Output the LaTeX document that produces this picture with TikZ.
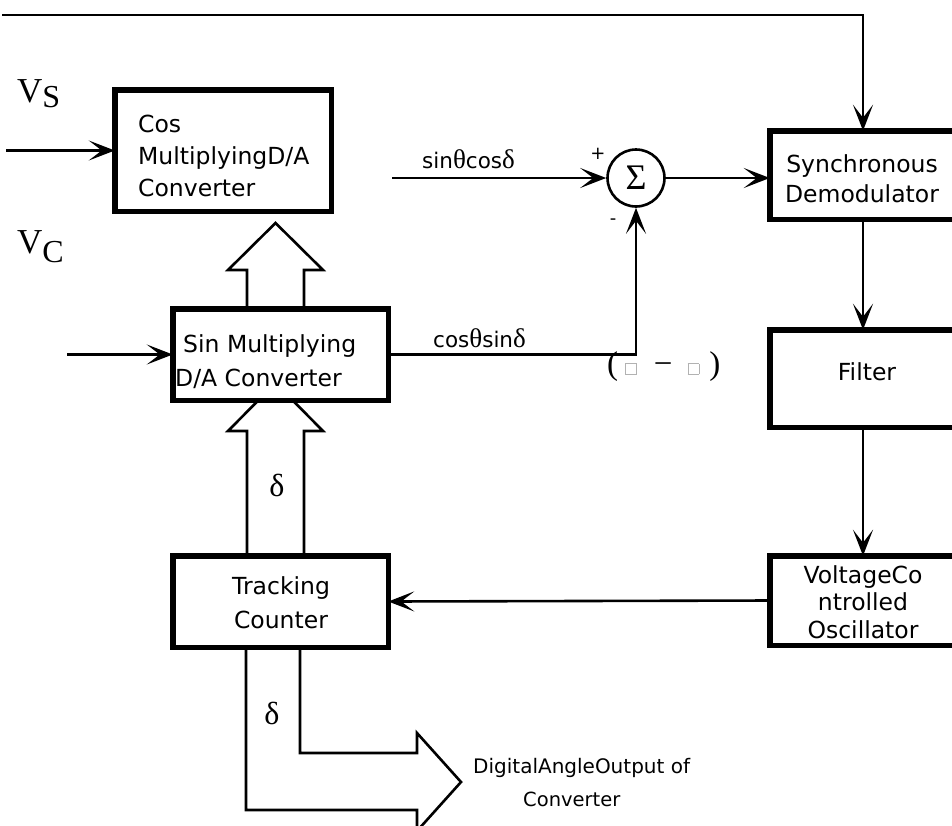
\documentclass[tikz,border=0pt]{standalone}
\usepackage{fontspec}
\setmainfont{DejaVu Sans}
\newfontfamily\grk{Liberation Serif}
\usetikzlibrary{arrows.meta}
\newcommand\missbox{{\color{gray!60}\fboxsep=0pt\fboxrule=0.9pt\fbox{\rule{0pt}{10pt}\rule{10pt}{0pt}}}}
\newcommand\gk[1]{{\grk\fontsize{27}{27}\selectfont #1}}
\begin{document}
\begin{tikzpicture}[x=1pt,y=-1pt,
  blk/.style={draw,line width=5.5pt,fill=white,inner sep=0pt,outer sep=0pt},
  txt/.style={font=\fontsize{23.5}{28}\selectfont,inner sep=0pt,anchor=base},
  txtl/.style={font=\fontsize{23.5}{28}\selectfont,inner sep=0pt,anchor=base west},
  lab/.style={font=\fontsize{21.5}{25}\selectfont,inner sep=0pt,anchor=base west},
  conn/.style={line width=2.6pt,arrows={-Stealth[length=26pt,width=20pt,inset=13pt]}},
  hollow/.style={draw,line width=2.6pt,line join=miter,fill=white}]
\useasboundingbox (0,0) rectangle (952,825);
\fill[white] (0,0) rectangle (952,825);
\clip (0,0) rectangle (952,825);

% hollow bus arrows (drawn first, boxes cover their ends)
\coordinate (hA1) at (247,553);
\coordinate (hA2) at (304,553);
\draw[hollow] (hA1) -- (247,431) -- (228,431) -- (275.5,383) -- (323,431) -- (304,431) -- (hA2);
\coordinate (hB1) at (247,306);
\coordinate (hB2) at (304,306);
\draw[hollow] (hB1) -- (247,270) -- (228,270) -- (275.5,223) -- (323,270) -- (304,270) -- (hB2);
\coordinate (hC1) at (246,650);
\coordinate (hC2) at (300,650);
\draw[hollow] (hC1) -- (246,810) -- (417,810) -- (417,831) -- (461,782) -- (417,733) -- (417,753) -- (300,753) -- (hC2);

% blocks
\node[blk,minimum width=216.5pt,minimum height=121.5pt] (cos) at (223,150.5) {};
\node[blk,minimum width=215.5pt,minimum height=91.5pt] (sin) at (280.5,354.5) {};
\node[blk,minimum width=215.5pt,minimum height=91.5pt] (trk) at (280.5,601.5) {};
\node[blk,minimum width=186.5pt,minimum height=88.5pt] (sync) at (863,175) {};
\node[blk,minimum width=186.5pt,minimum height=97.5pt] (filt) at (863,378.5) {};
\node[blk,minimum width=186.5pt,minimum height=89.5pt] (vco) at (863,600.5) {};
\node[draw,circle,line width=2.6pt,minimum size=57pt,inner sep=0pt,fill=white,
      font=\grk\fontsize{36}{36}\selectfont] (sum) at (636,178) {Σ};

% block texts
\node[txtl] (tcos1) at (138,132) {Cos};
\node[txtl] (tcos2) at (138,164) {MultiplyingD/A};
\node[txtl] (tcos3) at (138,196) {Converter};
\node[txtl] (tsin1) at (183,352) {Sin Multiplying};
\node[txtl] (tsin2) at (175,386) {D/A Converter};
\node[txt] (ttrk1) at (281,594) {Tracking};
\node[txt] (ttrk2) at (281,628) {Counter};
\node[txt] (tsync1) at (862,172) {Synchronous};
\node[txt] (tsync2) at (862,202) {Demodulator};
\node[txt] (tfilt) at (867,380) {Filter};
\node[txt] (tvco1) at (863,583) {VoltageCo};
\node[txt] (tvco2) at (863,610) {ntrolled};
\node[txt] (tvco3) at (863,638) {Oscillator};

% inputs
\node[anchor=base west,inner sep=0pt,font=\grk\fontsize{35}{36}\selectfont] (vs) at (17,102)
  {V\raisebox{-5pt}{\fontsize{32}{32}\selectfont S}};
\node[anchor=base west,inner sep=0pt,font=\grk\fontsize{35}{36}\selectfont] (vc) at (17,253)
  {V\raisebox{-9pt}{\fontsize{32}{32}\selectfont C}};
\coordinate (vsin) at (6,150.5);
\coordinate (vcin) at (67,354.5);
\draw[conn] (vsin) -- (cos.west);
\draw[conn] (vcin) -- (sin.west);

% reference feedback line at top
\coordinate (topl) at (2,15);
\draw[conn] (topl) -- (topl -| sync.north) -- (sync.north);

% signal connectors
\coordinate (scin) at (392,178);
\draw[conn] (scin) -- (sum.west);
\draw[conn] (sin.east) -- (sin.east -| sum.south) -- (sum.south);
\draw[conn] (sum.east) -- (sum.east -| sync.west);
\draw[conn] (sync.south) -- (filt.north);
\draw[conn] (filt.south) -- (vco.north);
\draw[conn] (vco.west) -- (trk.east);

% labels
\node[lab] (lsc) at (422,168) {sin\gk{θ}cos\gk{δ}};
\node[lab] (lcs) at (433,347) {cos\gk{θ}sin\gk{δ}};
\node[inner sep=0pt,font=\fontsize{18}{18}\selectfont] (plus) at (598,154) {+};
\node[inner sep=0pt,font=\fontsize{18}{18}\selectfont] (minus) at (613,222) {-};
\node[anchor=base west,inner sep=0pt,font=\grk\fontsize{33}{34}\selectfont] (diff) at (607,374)
  {(\hspace{7pt}\missbox\hspace{17pt}−\hspace{15pt}\missbox\hspace{10pt})};
\node[inner sep=0pt,font=\grk\fontsize{32}{34}\selectfont] (d1) at (277,485) {δ};
\node[inner sep=0pt,font=\grk\fontsize{32}{34}\selectfont] (d2) at (272,713) {δ};
\node[anchor=base west,inner sep=0pt,font=\fontsize{20}{24}\selectfont] (out1) at (473,773) {DigitalAngleOutput of};
\node[anchor=base west,inner sep=0pt,font=\fontsize{19.5}{24}\selectfont] (out2) at (523,806) {Converter};
\end{tikzpicture}
\end{document}
